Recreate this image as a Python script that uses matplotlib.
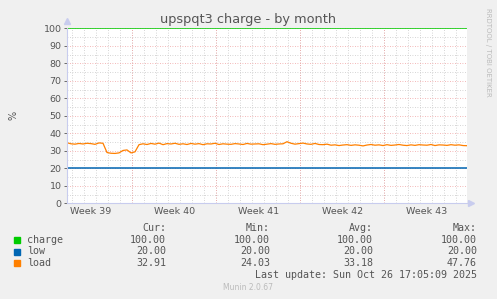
from matplotlib import pyplot as plt
import numpy as np

# Data (time in days from the left edge, step 1/3 day)
week_labels = ["Week 39", "Week 40", "Week 41", "Week 42", "Week 43"]
charge_level = 100.0
low_level = 20.0
load_values = [
    34.6, 34.0, 33.8, 34.2, 33.9, 34.3, 34.1, 33.7, 34.5, 34.3,
    29.0, 28.6, 28.5, 28.8, 30.2, 30.5, 28.8, 29.4, 33.5,
    34.0, 33.6, 34.2, 33.8, 34.4, 33.5, 34.1, 33.9, 34.3, 33.7, 34.0, 33.6,
    34.2, 33.8, 34.1, 33.5, 34.0, 33.9, 34.3, 33.6, 34.0, 33.8, 33.7, 34.1,
    33.9, 33.6, 34.2, 33.8, 33.9, 34.0, 33.5, 33.8, 34.1, 33.7, 33.9, 34.0,
    35.2, 34.3, 33.8, 34.1, 34.4, 33.9, 33.7, 34.2, 33.6, 33.5, 33.8, 33.2,
    33.4, 33.0, 33.3, 33.5, 33.1, 33.4, 33.2, 32.8, 33.3, 33.6, 33.2, 33.4,
    33.0, 33.5, 33.1, 33.3, 33.6, 33.2, 33.0, 33.4, 33.1, 33.5, 33.3, 33.2,
    33.6, 33.0, 33.4, 33.3, 33.1, 33.5, 33.2, 33.4, 33.0, 32.91,
]
series_names = ["charge", "low", "load"]
series_colors = ["#00CC00", "#0066B3", "#FF8000"]
stats = [
    ["100.00", "100.00", "100.00", "100.00"],
    ["20.00", "20.00", "20.00", "20.00"],
    ["32.91", "24.03", "33.18", "47.76"],
]

t = np.arange(len(load_values)) / 3.0
t_end = t[-1]
first_week = 5.44  # first week boundary, days from left edge

fig = plt.figure(figsize=(4.97, 2.99), dpi=100, facecolor="#F0F0F0")
ax = fig.add_axes([67 / 497, (299 - 203.3) / 299, 400 / 497, 175 / 299])
ax.set_facecolor("white")

# Grid: daily / 5% minor in gray, weekly / 10% major in red
for d in np.arange(first_week - 5, t_end, 1.0):
    ax.axvline(d, color="#C8C8C8", lw=0.6, ls=(0, (1, 2)), zorder=0)
for y in np.arange(5, 100, 10):
    ax.axhline(y, color="#C8C8C8", lw=0.6, ls=(0, (1, 2)), zorder=0)
week_bounds = np.arange(first_week, t_end, 7.0)
for d in week_bounds:
    ax.axvline(d, color="#F0A0A0", lw=0.6, ls=(0, (1, 2)), zorder=0)
for y in np.arange(10, 101, 10):
    ax.axhline(y, color="#F0A0A0", lw=0.6, ls=(0, (1, 2)), zorder=0)

# Series
ax.plot([0, t_end], [charge_level, charge_level], color=series_colors[0], lw=1.1)
ax.plot([0, t_end], [low_level, low_level], color=series_colors[1], lw=1.1)
ax.plot(t, load_values, color=series_colors[2], lw=0.9)

ax.set_xlim(0, t_end)
ax.set_ylim(0, 100)

for s in ["top", "right"]:
    ax.spines[s].set_visible(False)
ax.spines["left"].set_color("#C8CCEE")
ax.spines["bottom"].set_color("#C8CCEE")
ax.spines["left"].set_linewidth(0.8)
ax.spines["bottom"].set_linewidth(0.8)

# Arrow heads on axes
ax.plot(0, 104, marker="^", color="#C8CCEE", ms=4, clip_on=False)
ax.plot(t_end + 0.35, 0, marker=">", color="#C8CCEE", ms=4, clip_on=False)

ax.set_yticks(np.arange(0, 101, 10))
ax.tick_params(axis="y", labelsize=6.8, colors="#555555", length=2, width=0.6,
               pad=2)
ax.set_xticks(first_week - 3.5 + 7.0 * np.arange(len(week_labels)))
ax.set_xticklabels(week_labels)
ax.tick_params(axis="x", labelsize=6.8, colors="#555555", length=0, pad=3)

ax.set_ylabel("%", fontsize=7, color="#555555", labelpad=18)

fig.text(0.5, 1 - 19 / 299, "upspqt3 charge - by month", ha="center",
         va="center", fontsize=9.3, color="#555555")
fig.text(488 / 497, 1 - 52 / 299, "RRDTOOL / TOBI OETIKER", rotation=270,
         ha="center", va="center", fontsize=5, color="#BBBBBB")

# Legend table
mono = "DejaVu Sans Mono"
fs = 7.2
col_right = [166, 270, 373, 477]
headers = ["Cur:", "Min:", "Avg:", "Max:"]
row_y = [240, 251.5, 263]
for x, h in zip(col_right, headers):
    fig.text(x / 497, 1 - 228 / 299, h, ha="right", va="center",
             family=mono, fontsize=fs, color="#555555")
for i, name in enumerate(series_names):
    yy = 1 - row_y[i] / 299
    fig.patches.append(plt.Rectangle((14 / 497, yy - 3 / 299), 6 / 497,
                                     6 / 299, color=series_colors[i],
                                     transform=fig.transFigure, figure=fig))
    fig.text(27 / 497, yy, name, ha="left", va="center", family=mono,
             fontsize=fs, color="#555555")
    for x, v in zip(col_right, stats[i]):
        fig.text(x / 497, yy, v, ha="right", va="center", family=mono,
                 fontsize=fs, color="#555555")
fig.text(477 / 497, 1 - 275.5 / 299, "Last update: Sun Oct 26 17:05:09 2025",
         ha="right", va="center", family=mono, fontsize=fs, color="#555555")
fig.text(248 / 497, 1 - 288 / 299, "Munin 2.0.67", ha="center", va="center",
         fontsize=5.5, color="#BBBBBB")

fig.savefig("out.png", dpi=100, facecolor=fig.get_facecolor())
